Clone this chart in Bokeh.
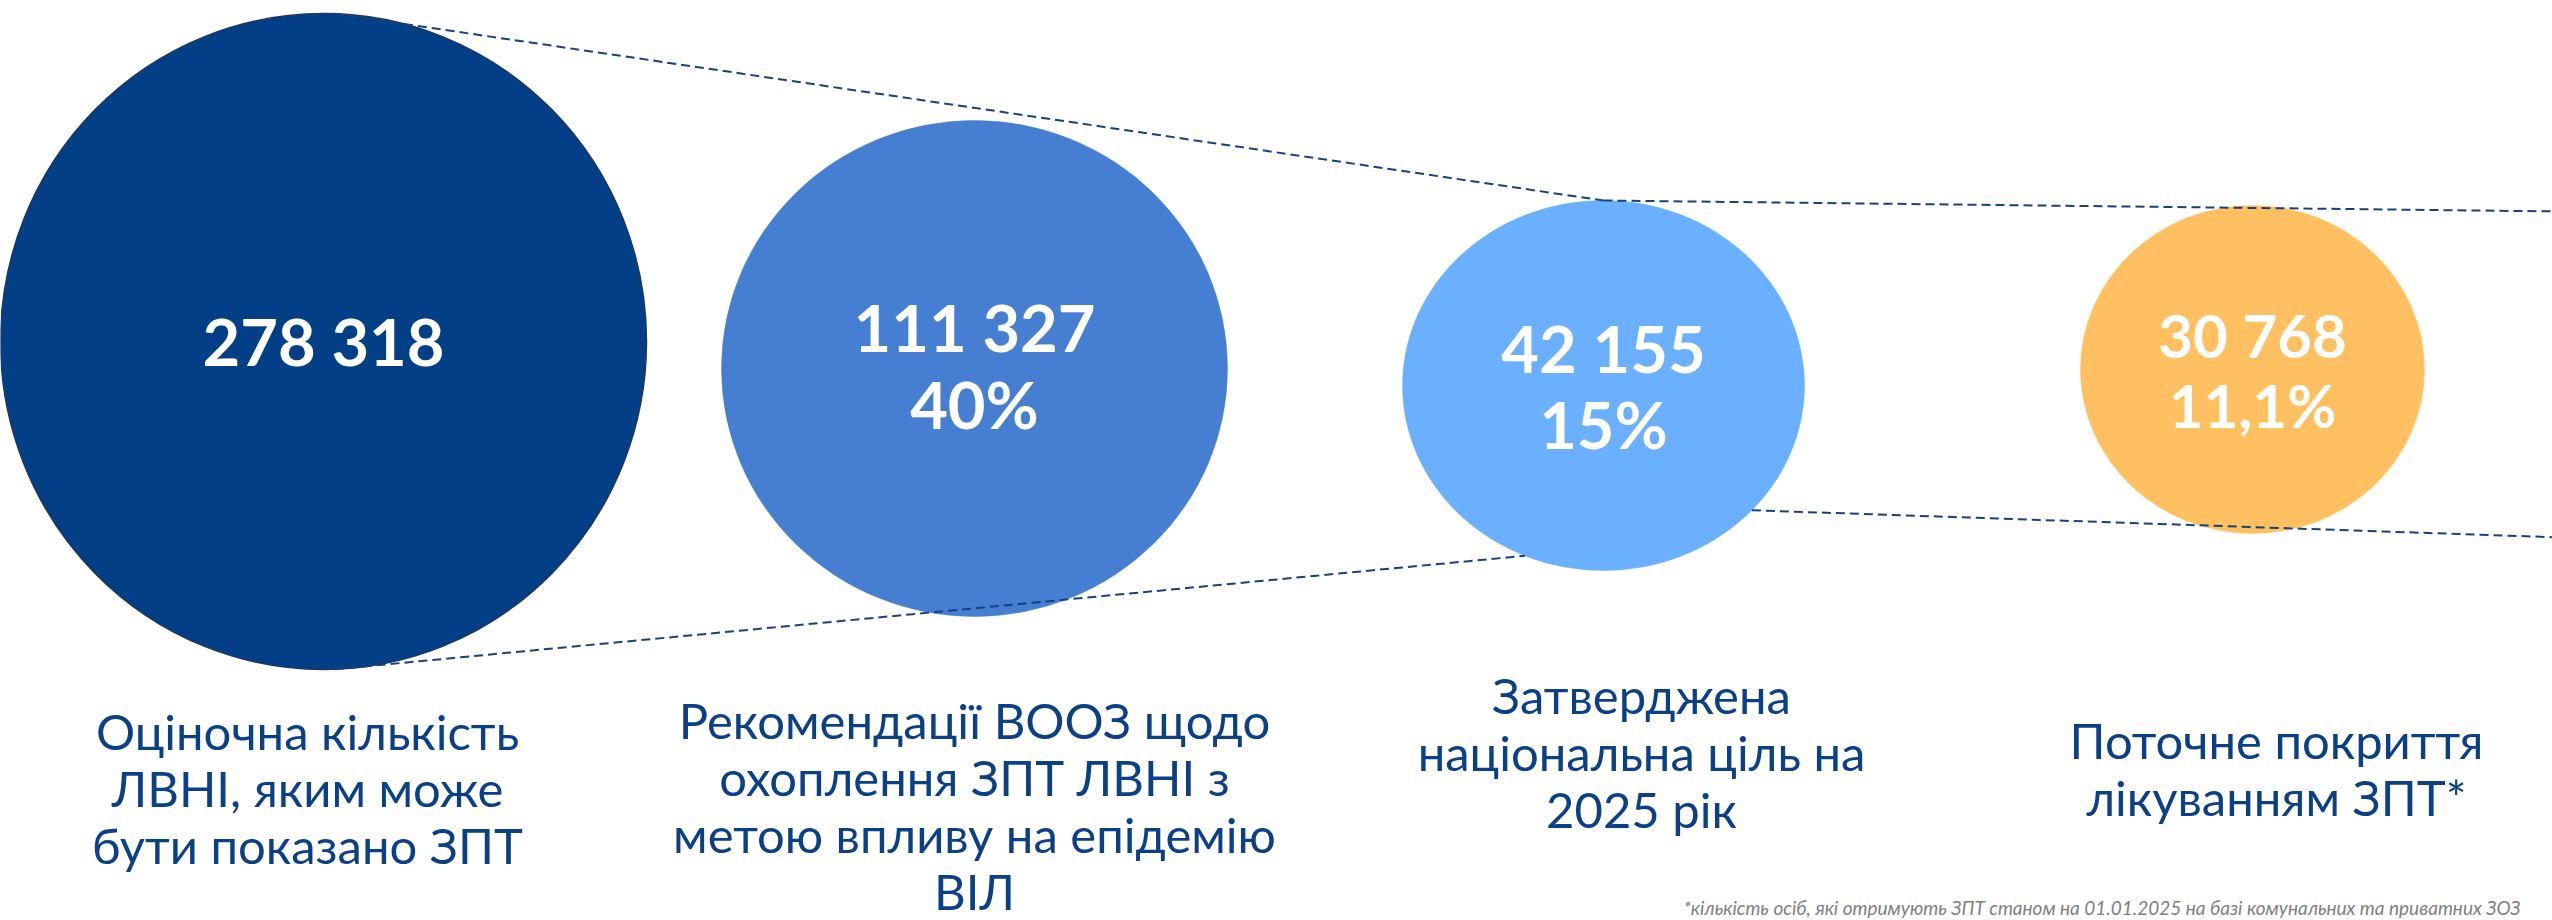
import math
from bokeh.plotting import figure
from bokeh.models import ColumnDataSource, Range1d
from bokeh.core.properties import value
from bokeh.embed import file_html
from bokeh.resources import INLINE

# ---------------- data ----------------
counts = [278318, 111327, 42155, 30768]
shares = [None, 40, 15, 11.1]
labels = [
    "Оціночна кількість\nЛВНІ, яким може\nбути показано ЗПТ",
    "Рекомендації ВООЗ щодо\nохоплення ЗПТ ЛВНІ з\nметою впливу на епідемію\nВІЛ",
    "Затверджена\nнаціональна ціль на\n2025 рік",
    "Поточне покриття\nлікуванням ЗПТ*",
]
footnote = "*кількість осіб, які отримують ЗПТ станом на 01.01.2025 на базі комунальних та приватних ЗОЗ"

# ---------------- layout (pixel space of the picture) ----------------
W, H = 2552, 920
X0, X1 = 0, 2552
Y0, Y1 = 0, 920
cx = [323, 974, 1603, 2252]
cy = [341, 368, 385, 369]
rx = [323, 253, 201, 172]
ry = [328, 248, 185, 164]
fills = ["#023F86", "#467FD2", "#6AB0FF", "#FFC061"]
edge = ["#1E3760", None, None, None]
num_size = ["65px", "65px", "65px", "60px"]
num_base1 = [340, 326, 347, 334]
num_base2 = [None, 403, 423, 404]

lab_x = [307, 974, 1641, 2276]
lab_y0 = [730, 719, 694, 739]
lab_step = 57

navy = "#0B4089"
dash_col = "#15427F"


def fmt_count(n):
    return f"{n:,}".replace(",", " ")


def fmt_share(s):
    if s is None:
        return None
    t = f"{s:g}".replace(".", ",")
    return t + "%"


def point_on(i, deg):
    a = math.radians(deg)
    return cx[i] + rx[i] * math.cos(a), cy[i] - ry[i] * math.sin(a)


# connectors: start point, end point (circle index + angle, or right edge + y)
connectors = [
    (("c", 0, 88), ("c", 2, 90)),
    (("c", 2, 90), ("e", 211)),
    (("c", 0, -88), ("c", 2, 247)),
    (("c", 2, 317.6), ("e", 537)),
]


def resolve(spec):
    if spec[0] == "c":
        return point_on(spec[1], spec[2])
    return X1 + 10, spec[1]


p = figure(width=W, height=H, x_range=Range1d(X0, X1), y_range=Range1d(Y1, Y0),
           output_backend="svg", toolbar_location=None,
           x_axis_type=None, y_axis_type=None, min_border=0)
p.outline_line_color = None
p.xgrid.visible = False
p.ygrid.visible = False
p.background_fill_color = "white"
p.border_fill_color = "white"

# circles
for i in range(4):
    p.ellipse(x=[cx[i]], y=[cy[i]], width=[2 * rx[i]], height=[2 * ry[i]],
              fill_color=fills[i],
              line_color=edge[i] if edge[i] else fills[i],
              line_width=1.5 if edge[i] else 0.5)

# dashed connectors
for a, b in connectors:
    xa, ya = resolve(a)
    xb, yb = resolve(b)
    p.line([xa, xb], [ya, yb], line_color=dash_col, line_width=2, line_dash="9 5")

# numbers in circles
for i in range(4):
    rows_x = [cx[i]]
    rows_y = [num_base1[i]]
    rows_t = [fmt_count(counts[i])]
    sh = fmt_share(shares[i])
    if sh is not None:
        rows_x.append(cx[i])
        rows_y.append(num_base2[i])
        rows_t.append(sh)
    p.text(x=rows_x, y=rows_y, text=rows_t, text_align="center",
           text_baseline="alphabetic", text_font=value("Lato"),
           text_font_style="bold", text_font_size=num_size[i], text_color="white")

# labels below
lx, ly, lt = [], [], []
for i, lab in enumerate(labels):
    for k, line in enumerate(lab.split("\n")):
        lx.append(lab_x[i])
        ly.append(lab_y0[i] + k * lab_step)
        lt.append(line)
src = ColumnDataSource(dict(x=lx, y=ly, t=lt))
p.text(x="x", y="y", text="t", source=src, text_align="center",
       text_baseline="alphabetic", text_font=value("Lato"),
       text_font_size="49px", text_color=navy)

# footnote
p.text(x=[2520], y=[907], text=[footnote], text_align="right",
       text_baseline="alphabetic", text_font=value("Lato"),
       text_font_style="italic", text_font_size="19px", text_color="#808080")

open("out.html", "w").write(file_html(p, INLINE))
